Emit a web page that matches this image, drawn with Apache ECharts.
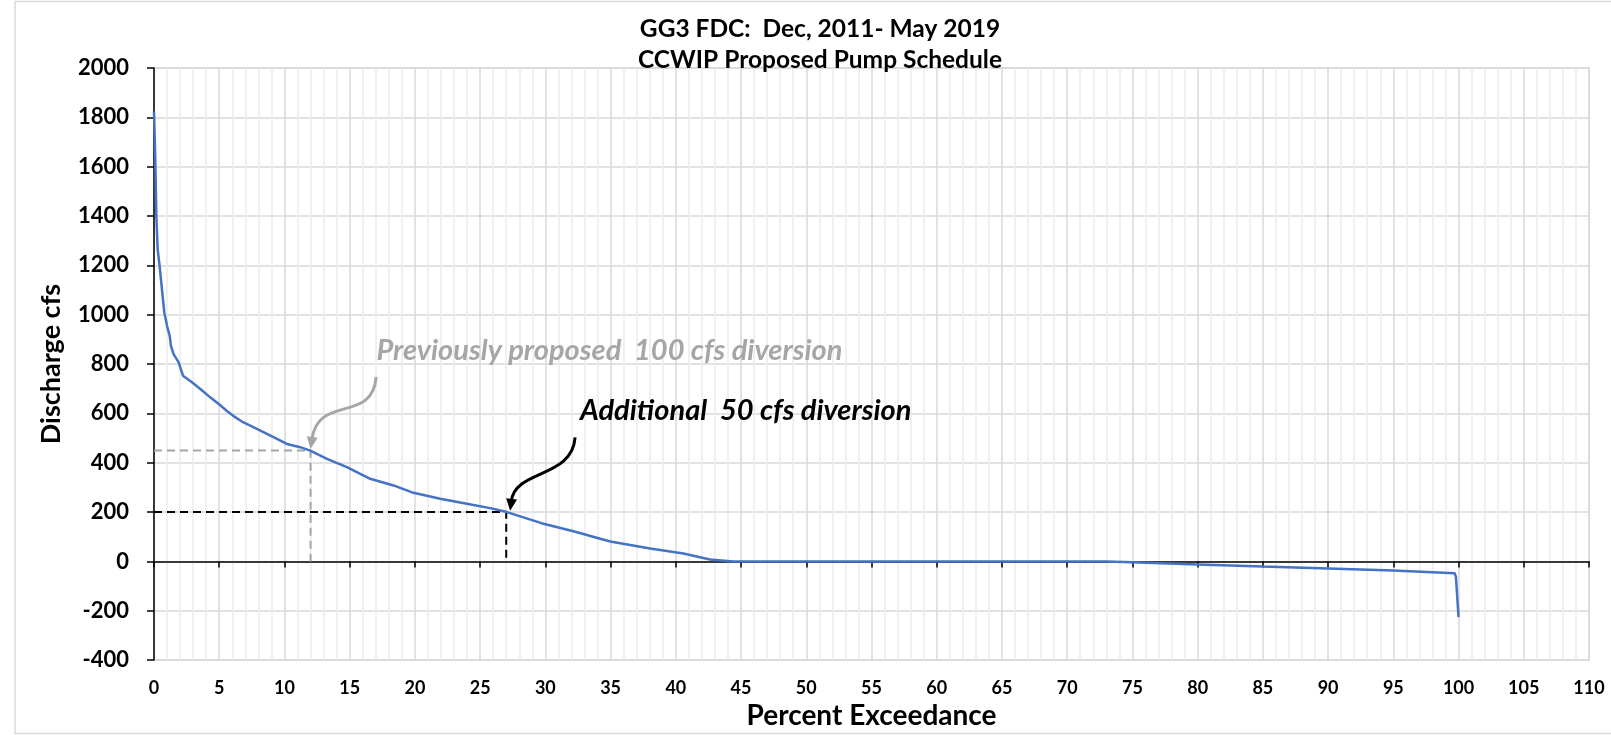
<!DOCTYPE html>
<html>
<head>
<meta charset="utf-8">
<title>GG3 FDC</title>
<script src="https://cdn.jsdelivr.net/npm/echarts@6/dist/echarts.min.js"></script>
<style>
  html, body { margin: 0; padding: 0; background: #ffffff; }
  #chart { width: 1611px; height: 735px; }
</style>
</head>
<body>
<div id="chart"></div>
<script>
// Flow duration curve, GG3 gauge (percent of time a discharge is equalled or exceeded)
const exceedancePct = [0, 0.1, 0.18, 0.28, 0.43, 0.61, 0.79, 1.0, 1.2, 1.3, 1.5, 1.89, 2.22, 2.91, 3.55, 4.31, 5.08,
  5.59, 6.1, 6.74, 7.38, 8.66, 10.19, 11.21, 11.98, 13.26, 14.79, 16.57, 18.36, 19.89, 21.94, 23.98, 25.77, 27.05, 29.7,
  32.15, 34.97, 38.03, 40.58, 42.62, 44.4, 73.0, 75, 80, 85, 90, 95, 99.7, 99.8, 100];
const dischargeCfs = [1824, 1629, 1400, 1265, 1198, 1103, 1009, 955, 915, 874, 840, 807, 753, 726, 699, 665, 633,
  610, 589, 567, 550, 517, 476, 463, 449, 416, 382, 335, 308, 278, 254, 234, 216, 200, 155,
  122, 81, 52, 32, 8, 0, 0, -3, -12, -21, -29, -37, -48, -63, -226];

// Reference guides: previously proposed diversion (12 %, 450 cfs) and additional diversion (27 %, 200 cfs)
const prevGuidePct = [0, 12, 12];
const prevGuideCfs = [450, 450, 0];
const addGuidePct = [0, 27, 27];
const addGuideCfs = [200, 200, 0];

// Callout labels and their arrows, in data units [percent, cfs]
const calloutTexts = ['Previously proposed  100 cfs diversion', 'Additional  50 cfs diversion'];
const calloutTextAt = [[17.05, 854], [32.65, 611]];
const arrowStart = [[17.03, 748], [32.28, 503]];
const arrowCp1 = [[16.75, 557], [32.05, 335]];
const arrowCp2 = [[12.6, 679], [27.7, 375]];
const arrowTip = [[12.0, 456], [27.3, 205]];
const calloutColors = ['#a6a6a6', '#000000'];

const titleLines = ['GG3 FDC:  Dec, 2011- May 2019', 'CCWIP Proposed Pump Schedule'];

const FONT = 'Lato, "Open Sans", sans-serif';

const zip = (xs, ys) => xs.map((x, i) => [x, ys[i]]);

const chart = echarts.init(document.getElementById('chart'), null, { renderer: 'canvas' });

chart.setOption({
  animation: false,
  backgroundColor: '#ffffff',
  grid: {
    left: 154, right: 22, top: 68, bottom: 73,
    show: true, borderColor: '#d9d9d9', borderWidth: 1.5, backgroundColor: 'transparent'
  },
  xAxis: [
    {
      type: 'value', min: 0, max: 110, interval: 5, position: 'bottom',
      axisLine: { show: false, onZero: false },
      axisTick: { show: false },
      axisLabel: { fontFamily: FONT, fontWeight: 'bold', fontSize: 18, color: '#000', margin: 19 },
      splitLine: { show: true, lineStyle: { color: '#d9d9d9', width: 1.5 } },
      minorTick: { show: false, splitNumber: 5 },
      minorSplitLine: { show: true, lineStyle: { color: '#ececec', width: 1.5 } },
      name: 'Percent Exceedance', nameLocation: 'middle', nameGap: 41,
      nameTextStyle: { fontFamily: FONT, fontWeight: 'bold', fontSize: 28, color: '#000' }
    },
    {
      // zero line with its tick marks
      type: 'value', min: 0, max: 110, interval: 5, position: 'bottom',
      axisLine: { show: true, onZero: true, onZeroAxisIndex: 0, lineStyle: { color: '#000', width: 1.5 } },
      axisTick: { show: true, length: 6, lineStyle: { color: '#000', width: 1.5 } },
      axisLabel: { show: false },
      splitLine: { show: false }
    }
  ],
  yAxis: {
    type: 'value', min: -400, max: 2000, interval: 200,
    axisLine: { show: true, onZero: false, lineStyle: { color: '#000', width: 1.5 } },
    axisTick: { show: true, length: 7, lineStyle: { color: '#000', width: 1.5 } },
    axisLabel: {
      fontFamily: FONT, fontWeight: 'bold', fontSize: 22, color: '#000', margin: 25,
      formatter: (v) => String(v)
    },
    splitLine: { show: true, lineStyle: { color: '#d9d9d9', width: 1.5 } },
    name: 'Discharge cfs', nameLocation: 'middle', nameRotate: 90, nameGap: 89,
    nameTextStyle: { fontFamily: FONT, fontWeight: 'bold', fontSize: 27, color: '#000' }
  },
  series: [
    {
      name: 'Previously proposed', type: 'line', xAxisIndex: 0, data: zip(prevGuidePct, prevGuideCfs),
      symbol: 'none', silent: true, z: 2,
      lineStyle: { color: '#a6a6a6', width: 2, type: [8, 5] }
    },
    {
      name: 'Additional', type: 'line', xAxisIndex: 0, data: zip(addGuidePct, addGuideCfs),
      symbol: 'none', silent: true, z: 2,
      lineStyle: { color: '#000000', width: 2, type: [8, 5] }
    },
    {
      name: 'GG3 FDC', type: 'line', xAxisIndex: 0, data: zip(exceedancePct, dischargeCfs),
      symbol: 'none', z: 3,
      lineStyle: { color: '#4472c4', width: 2.5 }
    }
  ]
});

// Chart frame, titles, callout text and curved arrows
function drawOverlay() {
  const toPx = (p) => chart.convertToPixel({ xAxisIndex: 0, yAxisIndex: 0 }, p);
  const elements = [
    {
      type: 'rect', silent: true, z: 0,
      shape: { x: 15, y: 1.5, width: 1620, height: 732 },
      style: { fill: 'none', stroke: '#d9d9d9', lineWidth: 1.5 }
    }
  ];
  titleLines.forEach((t, i) => {
    elements.push({
      type: 'text', x: 820, y: 29 + i * 31, z: 10,
      style: {
        text: t, fontFamily: FONT, fontWeight: 'bold', fontSize: 24.5, fill: '#000',
        textAlign: 'center', textVerticalAlign: 'middle'
      }
    });
  });
  calloutTexts.forEach((t, i) => {
    const p = toPx(calloutTextAt[i]);
    elements.push({
      type: 'text', x: p[0], y: p[1], z: 10,
      style: {
        text: t, fontFamily: FONT, fontWeight: 'bold', fontStyle: 'italic', fontSize: 29,
        fill: calloutColors[i], textAlign: 'left', textVerticalAlign: 'middle'
      }
    });
    const s = toPx(arrowStart[i]);
    const c1 = toPx(arrowCp1[i]);
    const c2 = toPx(arrowCp2[i]);
    const tip = toPx(arrowTip[i]);
    let dx = tip[0] - c2[0], dy = tip[1] - c2[1];
    const len = Math.hypot(dx, dy);
    dx /= len; dy /= len;
    const headLen = 12, headW = 11;
    const base = [tip[0] - dx * headLen, tip[1] - dy * headLen];
    const nx = -dy, ny = dx;
    elements.push({
      type: 'bezierCurve', z: 10, silent: true,
      shape: { x1: s[0], y1: s[1], cpx1: c1[0], cpy1: c1[1], cpx2: c2[0], cpy2: c2[1],
               x2: base[0] + dx * 2, y2: base[1] + dy * 2 },
      style: { stroke: calloutColors[i], lineWidth: 3, fill: 'none' }
    });
    elements.push({
      type: 'polygon', z: 10, silent: true,
      shape: { points: [tip, [base[0] + nx * headW / 2, base[1] + ny * headW / 2],
                             [base[0] - nx * headW / 2, base[1] - ny * headW / 2]] },
      style: { fill: calloutColors[i] }
    });
  });
  chart.setOption({ graphic: { elements } });
}
drawOverlay();
</script>
</body>
</html>
